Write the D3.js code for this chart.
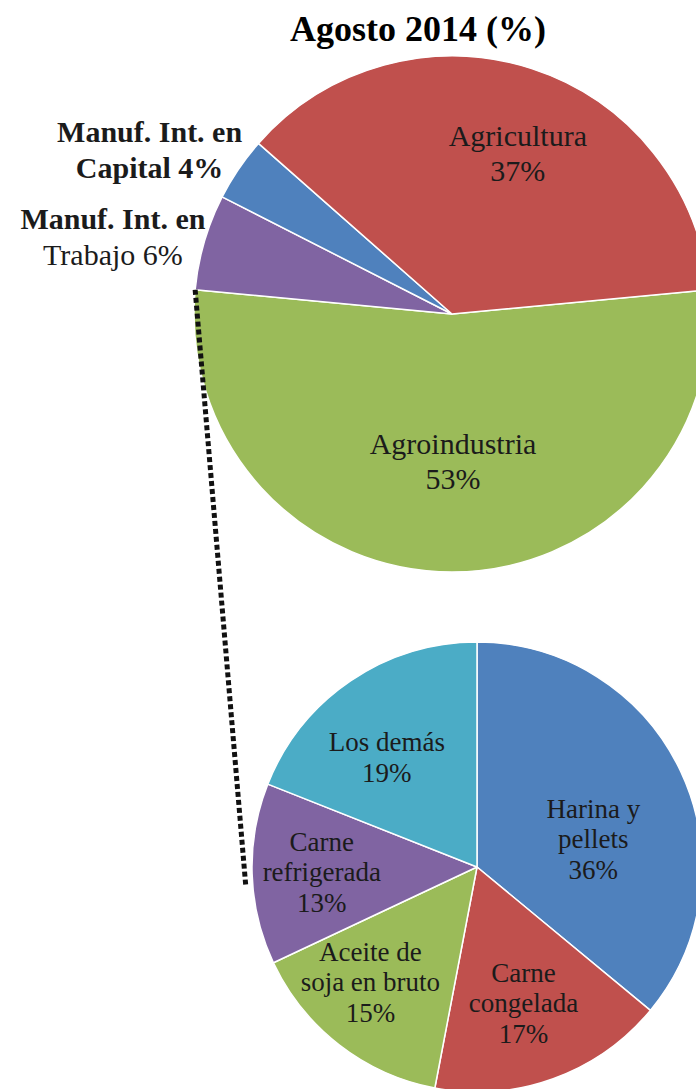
<!DOCTYPE html>
<html>
<head>
<meta charset="utf-8">
<script src="https://cdn.jsdelivr.net/npm/d3@7"></script>
<style>
  html, body { margin: 0; padding: 0; background: #fff; }
  svg { display: block; }
</style>
</head>
<body>
<div id="chart"></div>
<script>
// Main breakdown, Agosto 2014
const mainNames = ["Agroindustria", "Manuf. Int. en Trabajo", "Manuf. Int. en Capital", "Agricultura"];
const mainLines = [["Agroindustria"], ["Manuf. Int. en", "Trabajo"], ["Manuf. Int. en", "Capital"], ["Agricultura"]];
const mainValues = [53, 6, 4, 37];

// Detail of the Agroindustria slice
const subNames = ["Harina y pellets", "Carne congelada", "Aceite de soja en bruto", "Carne refrigerada", "Los demás"];
const subLines = [["Harina y", "pellets"], ["Carne", "congelada"], ["Aceite de", "soja en bruto"], ["Carne", "refrigerada"], ["Los demás"]];
const subValues = [36, 17, 15, 13, 19];

const title = "Agosto 2014 (%)";

const width = 696;
const height = 1089;
const serif = '"Liberation Serif"';

const svg = d3.select("#chart")
  .append("svg")
  .attr("width", width)
  .attr("height", height);

const mainColor = d3.scaleOrdinal()
  .domain(mainNames)
  .range(["#9BBB59", "#8064A2", "#4F81BD", "#C0504D"]);

const subColor = d3.scaleOrdinal()
  .domain(subNames)
  .range(["#4F81BD", "#C0504D", "#9BBB59", "#8064A2", "#4BACC6"]);

// Layout of both pies
const topPie = { cx: 452, cy: 314, r: 258 };
const bottomPie = { cx: 477, cy: 867, r: 225 };

const mainPie = d3.pie().sort(null).value(d => d.value)
  .startAngle(84.6 * Math.PI / 180)
  .endAngle(84.6 * Math.PI / 180 + 2 * Math.PI);
const subPie = d3.pie().sort(null).value(d => d.value);

const mainArcs = mainPie(mainNames.map((name, i) => ({ name, lines: mainLines[i], value: mainValues[i] })));
const subArcs = subPie(subNames.map((name, i) => ({ name, lines: subLines[i], value: subValues[i] })));

// small hand nudges so labels sit like the original
const mainNudge = {
  "Agroindustria": [1, -8],
  "Manuf. Int. en Trabajo": [-17, 16],
  "Manuf. Int. en Capital": [-25, 24],
  "Agricultura": [18, -14]
};
const subNudge = {
  "Harina y pellets": [-16, 34],
  "Carne congelada": [-3, -2],
  "Aceite de soja en bruto": [-17, -1],
  "Carne refrigerada": [-9, 0],
  "Los demás": [-8, 11]
};

function drawSlices(g, arcs, r, color) {
  const arc = d3.arc().innerRadius(0).outerRadius(r);
  g.selectAll("path")
    .data(arcs)
    .enter()
    .append("path")
    .attr("d", arc)
    .attr("fill", d => color(d.data.name))
    .attr("stroke", "#fff")
    .attr("stroke-width", 1.5)
    .attr("stroke-linejoin", "round");
}

function drawLabel(g, x, y, lines, opts) {
  const t = g.append("text")
    .attr("text-anchor", "middle")
    .style("font-family", serif)
    .attr("font-size", opts.size)
    .attr("fill", "#1b1b1b");
  const y0 = y - (lines.length - 1) * opts.lh / 2;
  lines.forEach((line, i) => {
    t.append("tspan")
      .attr("x", x)
      .attr("y", y0 + i * opts.lh)
      .attr("dy", "0.35em")
      .attr("font-weight", opts.bold && opts.bold[i] ? "bold" : "normal")
      .text(line);
  });
}

// Title
svg.append("text")
  .attr("x", 418)
  .attr("y", 41)
  .attr("text-anchor", "middle")
  .style("font-family", serif)
  .attr("font-size", 36)
  .attr("font-weight", "bold")
  .attr("fill", "#000")
  .text(title);

// Connector between the two pies (dotted)
const greenEnd = mainArcs[0].endAngle;
const p1 = [topPie.cx + topPie.r * Math.sin(greenEnd), topPie.cy - topPie.r * Math.cos(greenEnd)];
const a2 = 265 * Math.PI / 180;
const p2 = [bottomPie.cx + (bottomPie.r + 7) * Math.sin(a2), bottomPie.cy - (bottomPie.r + 7) * Math.cos(a2)];

// Top pie
const gTop = svg.append("g").attr("transform", `translate(${topPie.cx},${topPie.cy})`);
drawSlices(gTop, mainArcs, topPie.r, mainColor);

const inArcTop = d3.arc().innerRadius(topPie.r * 0.6).outerRadius(topPie.r * 0.6);
const outArcTop = d3.arc().innerRadius(topPie.r * 1.3).outerRadius(topPie.r * 1.3);

mainArcs.forEach(d => {
  const [dx, dy] = mainNudge[d.data.name];
  const pct = d.data.value + "%";
  if (d.data.value >= 10) {
    const [x, y] = inArcTop.centroid(d);
    drawLabel(gTop, x + dx, y + dy, [...d.data.lines, pct], { size: 30, lh: 35 });
  } else {
    const [x, y] = outArcTop.centroid(d);
    const lines = d.data.lines.slice();
    lines[lines.length - 1] += " " + pct;
    const bold = d.data.name.endsWith("Capital") ? [true, true] : [true, false];
    drawLabel(gTop, x + dx, y + dy, lines, { size: 30, lh: 36, bold });
  }
});

// Bottom pie
const gBottom = svg.append("g").attr("transform", `translate(${bottomPie.cx},${bottomPie.cy})`);
drawSlices(gBottom, subArcs, bottomPie.r, subColor);

const inArcBottom = d3.arc().innerRadius(bottomPie.r * 0.65).outerRadius(bottomPie.r * 0.65);
subArcs.forEach(d => {
  const [dx, dy] = subNudge[d.data.name];
  const [x, y] = inArcBottom.centroid(d);
  drawLabel(gBottom, x + dx, y + dy, [...d.data.lines, d.data.value + "%"], { size: 27, lh: 30.5 });
});

svg.append("line")
  .attr("x1", p1[0])
  .attr("y1", p1[1])
  .attr("x2", p2[0])
  .attr("y2", p2[1])
  .attr("stroke", "#111")
  .attr("stroke-width", 5)
  .attr("stroke-dasharray", "5,3");
</script>
</body>
</html>
